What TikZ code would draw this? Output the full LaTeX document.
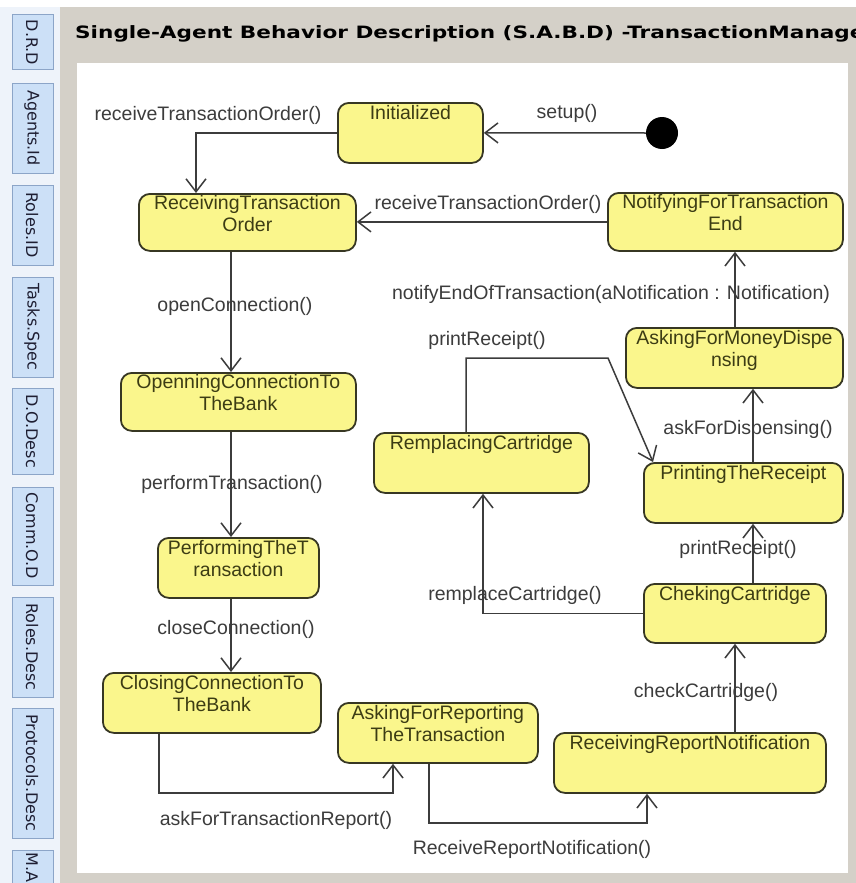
\documentclass[tikz,border=0pt]{standalone}
\usepackage{fontspec}
\setmainfont{Liberation Sans}
\newfontfamily\tabfont{DejaVu Sans}
\newfontfamily\titlefont[FakeStretch=1.27]{DejaVu Sans}
\usepackage{xcolor}
\usetikzlibrary{arrows.meta,positioning}
\definecolor{panelgray}{RGB}{212,208,200}
\definecolor{leftbg}{RGB}{238,243,250}
\definecolor{tabfill}{RGB}{204,224,247}
\definecolor{tabline}{RGB}{140,165,200}
\definecolor{tabink}{RGB}{30,30,50}
\definecolor{stateyellow}{RGB}{250,246,140}
\definecolor{stateline}{RGB}{55,55,35}
\definecolor{statetext}{RGB}{60,60,20}
\definecolor{edgegray}{RGB}{60,60,60}
\definecolor{labelgray}{RGB}{60,60,60}
\newcommand{\diagfont}{\fontsize{19.5}{22}\selectfont}

\begin{document}
\begin{tikzpicture}[x=1pt,y=-1pt,
  state/.style={draw=stateline,fill=stateyellow,line width=1.8pt,rounded corners=11pt,
    anchor=north west,align=center,inner sep=0pt,text height=37pt,text depth=19pt,
    font=\diagfont,text=statetext},
  trans/.style={draw=edgegray,line width=1.5pt,-{Straight Barb[length=13pt,width=20pt]}},
  lbl/.style={font=\diagfont,text=labelgray,inner sep=0pt},
  tabbox/.style={draw=tabline,fill=tabfill,line width=1pt},
  tabtext/.style={font=\tabfont\fontsize{16}{18}\selectfont,text=tabink,rotate=-90,inner sep=0pt}]
\useasboundingbox (0,0) rectangle (856,883);
\clip (0,0) rectangle (856,883);
% window background
\fill[white] (0,0) rectangle (856,883);
\fill[leftbg] (0,7) rectangle (60,883);
\fill[panelgray] (60,7) rectangle (856,883);
\fill[white] (77,63) rectangle (848,873);
\node[anchor=base west,inner sep=0pt,font=\titlefont\bfseries\fontsize{17}{20}\selectfont] (title) at (75,38)
  {Single-Agent Behavior Description (S.A.B.D) -TransactionManager};
% side tabs
\foreach \tabname/\ytop/\ybot in {D.R.D/15/70,Agents.Id/83/173,Roles.ID/185/265,Tasks.Spec/277/377,
    D.O.Desc/388/474,Comm.O.D/487/585,Roles.Desc/597/697,Protocols.Desc/708/838}{
  \draw[tabbox] (12,\ytop) rectangle (53,\ybot);
  \node[tabtext] (tab\ytop) at (32,{(\ytop+\ybot)/2}) {\tabname};
}
\draw[tabbox] (12,850) rectangle (53,900);
\node[tabtext,anchor=west] (tabMA) at (32,852) {M.A};
% states
\node[circle,fill=black,minimum size=32pt,inner sep=0pt] (start) at (662,133) {};
\node[state,minimum width=145pt,minimum height=60pt] (init) at (337,102) {Initialized\\\strut};
\node[state,minimum width=217pt,minimum height=57pt] (rto) at (138,193) {ReceivingTransaction\\Order};
\node[state,minimum width=235pt,minimum height=58pt] (nte) at (607,192) {NotifyingForTransaction\\End};
\node[state,minimum width=235pt,minimum height=58pt] (ocb) at (120,372) {OpenningConnectionTo\\TheBank};
\node[state,minimum width=217pt,minimum height=60pt] (afm) at (625,327) {AskingForMoneyDispe\\nsing};
\node[state,minimum width=215pt,minimum height=60pt] (rpc) at (373,432) {RemplacingCartridge\\\strut};
\node[state,minimum width=199pt,minimum height=60pt] (ptr) at (643,462) {PrintingTheReceipt\\\strut};
\node[state,minimum width=161pt,minimum height=60pt] (ptt) at (157,537) {PerformingTheT\\ransaction};
\node[state,minimum width=182pt,minimum height=59pt] (ckc) at (643,583) {ChekingCartridge\\\strut};
\node[state,minimum width=218pt,minimum height=60pt] (ccb) at (102,672) {ClosingConnectionTo\\TheBank};
\node[state,minimum width=200pt,minimum height=60pt] (afr) at (337,702) {AskingForReporting\\TheTransaction};
\node[state,minimum width=272pt,minimum height=60pt] (rrn) at (553,732) {ReceivingReportNotification\\\strut};
% transition labels
\node[lbl] (lblInitRecv) at (208,115) {receiveTransactionOrder()};
\node[lbl] (lblSetup) at (567,113) {setup()};
\node[lbl] (lblNotifyRecv) at (488,204) {receiveTransactionOrder()};
\node[lbl] (lblOpen) at (235,306) {openConnection()};
\node[lbl] (lblNotifyEnd) at (611,294) {notifyEndOfTransaction(aNotification : Notification)};
\node[lbl] (lblPrintA) at (487,340) {printReceipt()};
\node[lbl] (lblDispense) at (748,429) {askForDispensing()};
\node[lbl] (lblPerform) at (232,484) {performTransaction()};
\node[lbl] (lblPrintB) at (738,549) {printReceipt()};
\node[lbl] (lblRemplace) at (515,595) {remplaceCartridge()};
\node[lbl] (lblClose) at (236,629) {closeConnection()};
\node[lbl] (lblCheck) at (706,692) {checkCartridge()};
\node[lbl] (lblReport) at (276,820) {askForTransactionReport()};
\node[lbl] (lblReceive) at (532,849) {ReceiveReportNotification()};
% transitions
\draw[trans] (start.west) -- (init.east);
\draw[trans] (init.west) -| (196,0 |- rto.north);
\draw[trans] (nte.west) -- (nte.west -| rto.east);
\draw[trans] (231,0 |- rto.south) -- (231,0 |- ocb.north);
\draw[trans] (231,0 |- ocb.south) -- (231,0 |- ptt.north);
\draw[trans] (231,0 |- ptt.south) -- (231,0 |- ccb.north);
\draw[trans] (159,0 |- ccb.south) |- (393,793) -- (393,0 |- afr.south);
\draw[trans] (429,0 |- afr.south) |- (647,823) -- (647,0 |- rrn.south);
\draw[trans] (735,0 |- rrn.north) -- (735,0 |- ckc.south);
\draw[trans] (753,0 |- ckc.north) -- (753,0 |- ptr.south);
\draw[trans] (ckc.west) -| (483,0 |- rpc.south);
\draw[trans] (466,0 |- rpc.north) |- (608,358) -- ([xshift=10pt]ptr.north west);
\draw[trans] (753,0 |- ptr.north) -- (753,0 |- afm.south);
\draw[trans] (735,0 |- afm.north) -- (735,0 |- nte.south);
\end{tikzpicture}
\end{document}
